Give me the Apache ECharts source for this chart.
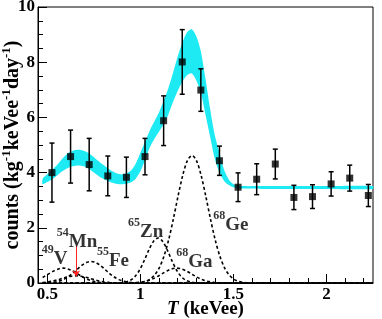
<!DOCTYPE html>
<html><head><meta charset="utf-8">
<script src="https://cdn.jsdelivr.net/npm/echarts@6/dist/echarts.min.js"></script>
<style>html,body{margin:0;padding:0;background:#fff}#c{width:382px;height:319px}</style>
</head><body><div id="c"></div>
<script>
// ---- data points (counts per bin) ----
const binX   = [0.525,0.625,0.725,0.825,0.925,1.025,1.125,1.225,1.325,1.425,1.525,1.625,1.725,1.825,1.925,2.025,2.125,2.225];
const counts = [4.00,4.58,4.29,3.88,3.83,4.58,5.88,8.01,6.99,4.43,3.47,3.76,4.31,3.10,3.13,3.59,3.80,3.17];
const errs   = [1.07,0.96,0.95,0.72,0.73,0.66,0.90,1.17,0.77,0.53,0.52,0.56,0.54,0.44,0.43,0.44,0.47,0.40];

// ---- fit band (lower / upper edges) ----
const bandX  = [0.475,0.5,0.525,0.55,0.575,0.6,0.625,0.65,0.675,0.7,0.725,0.75,0.775,0.8,0.825,0.85,0.875,0.9,0.925,0.95,0.975,1.0,1.025,1.05,1.075,1.1,1.125,1.15,1.175,1.2,1.225,1.25,1.275,1.3,1.325,1.35,1.375,1.4,1.425,1.45,1.475,1.5,1.55,1.65,1.8,2.0,2.25];
const bandLo = [3.58,3.66,3.75,3.88,4.02,4.13,4.21,4.25,4.26,4.22,4.13,4.00,3.88,3.78,3.70,3.63,3.59,3.58,3.60,3.65,3.78,4.05,4.45,4.90,5.22,5.48,5.75,6.10,6.55,6.95,7.28,7.53,7.60,7.35,6.90,6.10,5.30,4.50,4.00,3.70,3.55,3.47,3.42,3.41,3.41,3.41,3.41];
const bandHi = [3.78,3.94,4.10,4.26,4.46,4.64,4.76,4.82,4.83,4.78,4.69,4.56,4.42,4.28,4.16,4.05,3.97,3.94,3.98,4.08,4.32,4.72,5.12,5.52,5.85,6.18,6.60,7.05,7.60,8.20,8.70,9.08,9.19,8.95,8.40,7.40,6.30,5.35,4.72,4.10,3.75,3.58,3.51,3.51,3.51,3.51,3.51];

// ---- component curves (dashed) ----
const vX  = [0.475,0.485,0.51,0.535,0.56,0.585,0.61,0.635,0.66,0.685,0.71,0.735,0.76,0.785,0.81,0.835,0.86,2.25];
const vY  = [0.20,0.24,0.34,0.44,0.51,0.54,0.51,0.44,0.34,0.24,0.15,0.085,0.044,0.02,0.008,0.003,0.001,0];
const mnX = [0.475,0.505,0.53,0.555,0.58,0.605,0.63,0.655,0.68,0.705,0.73,0.755,0.78,0.805,0.83,0.855,0.88,0.905,2.25];
const mnY = [0.018,0.041,0.072,0.114,0.164,0.212,0.247,0.26,0.247,0.212,0.164,0.114,0.072,0.041,0.021,0.0097,0.004,0.0015,0];
const feX = [0.475,0.51,0.535,0.56,0.585,0.61,0.635,0.66,0.685,0.71,0.735,0.76,0.785,0.81,0.835,0.86,0.885,0.91,0.935,0.96,0.985,1.01,2.25];
const feY = [0.003,0.012,0.029,0.063,0.122,0.216,0.343,0.491,0.635,0.741,0.78,0.741,0.635,0.491,0.343,0.216,0.122,0.063,0.029,0.012,0.005,0.002,0];
const znX = [0.475,0.87,0.895,0.92,0.945,0.97,0.995,1.02,1.045,1.07,1.095,1.12,1.145,1.17,1.195,1.22,1.245,1.27,1.295,1.32,2.25];
const znY = [0,0.003,0.011,0.034,0.096,0.228,0.463,0.802,1.19,1.506,1.63,1.506,1.19,0.802,0.463,0.228,0.096,0.034,0.011,0.003,0];
const gaX = [0.475,0.92,0.945,0.97,0.995,1.02,1.045,1.07,1.095,1.12,1.145,1.17,1.195,1.22,1.245,1.27,1.295,1.32,1.345,1.37,1.395,1.42,1.445,1.47,2.25];
const gaY = [0,0.0015,0.004,0.010,0.024,0.049,0.093,0.159,0.247,0.348,0.444,0.514,0.54,0.514,0.444,0.348,0.247,0.159,0.093,0.049,0.024,0.010,0.004,0.0015,0];
const geX = [0.475,0.977,1.002,1.027,1.052,1.077,1.102,1.127,1.152,1.177,1.202,1.227,1.252,1.277,1.302,1.327,1.352,1.377,1.402,1.427,1.452,1.477,1.502,1.527,1.552,1.577,2.25];
const geY = [0,0.009,0.024,0.061,0.139,0.290,0.554,0.975,1.566,2.31,3.132,3.885,4.426,4.62,4.426,3.885,3.132,2.31,1.566,0.975,0.554,0.290,0.139,0.061,0.024,0.009,0];

// ---- annotations ----
const labelX    = [0.47,0.551,0.767,0.934,1.193,1.392];
const labelY    = [0.97,1.58,0.90,1.95,0.86,2.20];
const labelMass = ['49','54','55','65','68','68'];
const labelElem = ['V','Mn','Fe','Zn','Ga','Ge'];
const mnArrowX  = [0.655,0.655];
const mnArrowY  = [1.35,0.24];

// ---- ticks ----
const xMajor = [0.5,1,1.5,2];
const xMinor = [0.5,0.6,0.7,0.8,0.9,1.0,1.1,1.2,1.3,1.4,1.5,1.6,1.7,1.8,1.9,2.0,2.1,2.2];

const SERIF = '"Liberation Serif", "DejaVu Serif", serif';
const pairs = (xs, ys) => xs.map((x,i)=>[x, ys[i]]);
const dashStyle = {color:'#000', width:1.6, type:[3,2.5]};
const curve = (xs, ys) => ({type:'line', data:pairs(xs,ys), symbol:'none', smooth:0.3, lineStyle:dashStyle, z:3, silent:true});

const chart = echarts.init(document.getElementById('c'), null, {renderer:'canvas'});
chart.setOption({
  animation:false,
  backgroundColor:'#fff',
  grid:{left:38, top:7, right:9, bottom:36, containLabel:false, outerBoundsMode:'none',
        show:true, borderColor:'#000', borderWidth:1, backgroundColor:'transparent'},
  xAxis:[{
    type:'value', min:0.45, max:2.25, position:'bottom',
    axisLine:{show:true, onZero:false, lineStyle:{color:'#000', width:1}},
    axisTick:{show:true, inside:true, length:9, customValues:xMajor, lineStyle:{color:'#000', width:1}},
    axisLabel:{customValues:xMajor, color:'#000', fontFamily:SERIF, fontWeight:'bold', fontSize:17, margin:3},
    splitLine:{show:false},
    name:'{i|T} {t|(keVee)}', nameLocation:'middle', nameGap:17, nameMoveOverlap:false,
    nameTextStyle:{color:'#000', fontFamily:SERIF, fontWeight:'bold', fontSize:19, verticalAlign:'top',
      rich:{i:{fontFamily:SERIF, fontStyle:'italic', fontWeight:'bold', fontSize:19, color:'#000'},
            t:{fontFamily:SERIF, fontWeight:'bold', fontSize:19, color:'#000'}}}
  },{
    type:'value', min:0.45, max:2.25, position:'bottom',
    axisLine:{show:false},
    axisTick:{show:true, inside:true, length:5, customValues:xMinor, lineStyle:{color:'#000', width:1}},
    axisLabel:{show:false}, splitLine:{show:false}
  }],
  yAxis:{
    type:'value', min:0, max:10, interval:2, position:'left',
    axisLine:{show:true, lineStyle:{color:'#000', width:1}},
    axisTick:{show:true, inside:true, length:9, lineStyle:{color:'#000', width:1}},
    minorTick:{show:true, splitNumber:4, length:5, lineStyle:{color:'#000', width:1}},
    axisLabel:{color:'#000', fontFamily:SERIF, fontWeight:'bold', fontSize:17, margin:3},
    splitLine:{show:false},
    name:'{t|counts (kg}{s|-1}{t|keVee}{s|-1}{t|day}{s|-1}{t|)}',
    nameLocation:'middle', nameRotate:90, nameGap:15, nameMoveOverlap:false,
    nameTextStyle:{color:'#000', fontFamily:SERIF, fontWeight:'bold', fontSize:20,
      rich:{t:{fontFamily:SERIF, fontWeight:'bold', fontSize:20, lineHeight:23, verticalAlign:'bottom', color:'#000'},
            s:{fontFamily:SERIF, fontWeight:'bold', fontSize:13, lineHeight:13, verticalAlign:'top', color:'#000'}}}
  },
  series:[
    {type:'custom', z:1, silent:true, data:[[bandX[0], bandLo[0]]], encode:{x:0, y:1},
     renderItem:function(params, api){
       const up = bandX.map((x,i)=>api.coord([x, bandHi[i]]));
       const lo = bandX.map((x,i)=>api.coord([x, bandLo[i]])).reverse();
       return {type:'polygon', shape:{points:up.concat(lo), smooth:0.25},
               style:{fill:'#1eeaf4', stroke:'none'}};
     }},
    curve(vX, vY), curve(mnX, mnY), curve(feX, feY), curve(znX, znY), curve(gaX, gaY), curve(geX, geY),
    {type:'lines', coordinateSystem:'cartesian2d', z:4, silent:true,
     data:[{coords:[[mnArrowX[0], mnArrowY[0]],[mnArrowX[1], mnArrowY[1]]]}],
     symbol:['none','arrow'], symbolSize:[0,6], lineStyle:{color:'#ff2020', width:1, opacity:1}},
    {type:'custom', z:5, silent:true,
     data:binX.map((x,i)=>[x, counts[i], errs[i]]),
     encode:{x:0, y:1},
     renderItem:function(params, api){
       const x=api.value(0), y=api.value(1), e=api.value(2);
       const t=api.coord([x, y+e]), b=api.coord([x, y-e]);
       const cw=2.5;
       const st={stroke:'#000', lineWidth:1.5};
       return {type:'group', children:[
         {type:'line', shape:{x1:t[0], y1:t[1], x2:b[0], y2:b[1]}, style:st},
         {type:'line', shape:{x1:t[0]-cw, y1:t[1], x2:t[0]+cw, y2:t[1]}, style:st},
         {type:'line', shape:{x1:b[0]-cw, y1:b[1], x2:b[0]+cw, y2:b[1]}, style:st}
       ]};
     }},
    {type:'scatter', data:pairs(binX, counts), symbol:'rect', symbolSize:7, itemStyle:{color:'#000'}, z:6, silent:true},
    {type:'scatter', data:pairs(labelX, labelY), symbolSize:0, z:7, silent:true,
     label:{show:true, position:[0,0], align:'left', verticalAlign:'middle',
       formatter:p=>'{s|'+labelMass[p.dataIndex]+'}{m|'+labelElem[p.dataIndex]+'}',
       rich:{s:{fontFamily:SERIF, fontWeight:'bold', fontSize:12, lineHeight:12, verticalAlign:'top', color:'#000'},
             m:{fontFamily:SERIF, fontWeight:'bold', fontSize:19, lineHeight:24, verticalAlign:'bottom', color:'#000'}}}}
  ]
});
</script></body></html>
